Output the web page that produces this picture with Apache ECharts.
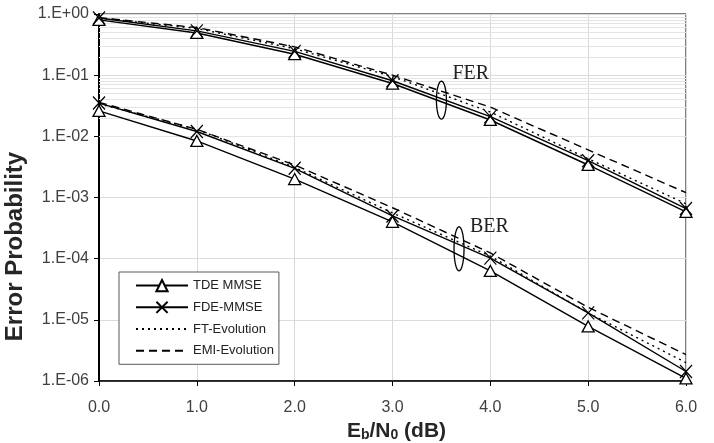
<!DOCTYPE html>
<html><head><meta charset="utf-8">
<script src="https://cdn.jsdelivr.net/npm/echarts@6/dist/echarts.min.js"></script>
<style>html,body{margin:0;padding:0;background:#fff}#c{width:714px;height:443px}</style>
</head><body><div id="c"></div>
<script>
// ---- data ----
const snr = [0, 1, 2, 3, 4, 5, 6];
const seriesNames = ['TDE MMSE', 'FDE-MMSE', 'FT-Evolution', 'EMI-Evolution'];
const ferTDE = [0.80, 0.49, 0.22, 0.073, 0.0185, 0.0034, 0.00058];
const ferFDE = [0.86, 0.53, 0.245, 0.081, 0.021, 0.0040, 0.00066];
const ferFT  = [0.86, 0.58, 0.27, 0.095, 0.025, 0.0043, 0.00079];
const ferEMI = [0.87, 0.60, 0.29, 0.10, 0.030, 0.0060, 0.0012];
const berTDE = [0.026, 0.0084, 0.0020, 0.00040, 0.000063, 0.0000078, 0.0000011];
const berFDE = [0.035, 0.012, 0.0030, 0.00050, 0.000102, 0.000013, 0.00000143];
const berFT  = [0.034, 0.013, 0.0031, 0.00056, 0.00011, 0.000013, 0.0000020];
const berEMI = [0.036, 0.013, 0.0034, 0.00068, 0.000124, 0.000016, 0.0000027];
// annotation anchors in data coordinates
const ferEllipseAt = [3.5, 0.039];
const berEllipseAt = [3.68, 1.45e-4];
const ferTextAt = [3.8, 0.105];
const berTextAt = [3.99, 3.3e-4];

const styles = {
  'TDE MMSE':     {symbol: 'triangle', size: [12, 11], dash: 'solid'},
  'FDE-MMSE':     {symbol: 'path://M0,0L10,10M10,0L0,10', size: [12, 13], dash: 'solid'},
  'FT-Evolution': {symbol: 'none', size: 0, dash: [2, 4]},
  'EMI-Evolution':{symbol: 'none', size: 0, dash: [8, 5]}
};

const minorVals = [];
for (let e = -6; e < 0; e++) for (let m = 2; m <= 9; m++) minorVals.push(m * Math.pow(10, e));

function mk(name, vals, withGrid) {
  const st = styles[name];
  const s = {
    name: name, type: 'line',
    data: snr.map((x, i) => [x, vals[i]]),
    symbol: st.symbol, symbolSize: st.size, showSymbol: st.symbol !== 'none',
    lineStyle: {color: '#000', width: 1.4, type: st.dash},
    itemStyle: {color: '#fff', borderColor: '#000', borderWidth: 1.3},
    emphasis: {disabled: true}, animation: false, silent: true, z: 3
  };
  if (withGrid) {
    s.markLine = {
      silent: true, symbol: 'none', animation: false, z: 1,
      label: {show: false}, emphasis: {disabled: true},
      lineStyle: {color: '#e4e4e4', width: 1, type: 'solid'},
      data: minorVals.map(v => ({yAxis: v}))
    };
  }
  return s;
}

const series = [
  mk('TDE MMSE', ferTDE, true), mk('TDE MMSE', berTDE),
  mk('FDE-MMSE', ferFDE), mk('FDE-MMSE', berFDE),
  mk('FT-Evolution', ferFT), mk('FT-Evolution', berFT),
  mk('EMI-Evolution', ferEMI), mk('EMI-Evolution', berEMI)
];

const chart = echarts.init(document.getElementById('c'), null, {renderer: 'canvas'});
chart.setOption({
  animation: false,
  textStyle: {fontFamily: 'Liberation Sans'},
  grid: {left: 99, right: 28, top: 14, bottom: 62, show: true, borderColor: '#000', borderWidth: 1,
    containLabel: false, outerBoundsMode: 'none'},
  legend: {
    orient: 'vertical', left: 119, top: 272,
    data: seriesNames.map(n => styles[n].symbol === 'none' ? {name: n, itemStyle: {opacity: 0}} : {name: n}),
    itemWidth: 52, itemHeight: 14, itemGap: 8.5,
    backgroundColor: '#fff', borderColor: '#595959', borderWidth: 1,
    padding: [7, 5, 7, 16], selectedMode: false,
    textStyle: {fontFamily: 'Liberation Sans', fontSize: 13, color: '#222'}
  },
  xAxis: {
    type: 'value', min: 0, max: 6, interval: 1,
    axisLine: {onZero: false, lineStyle: {color: '#000', width: 1.5}},
    axisTick: {show: true, length: 5, lineStyle: {color: '#000'}},
    axisLabel: {formatter: v => v.toFixed(1), fontSize: 16, color: '#404040', margin: 19},
    splitLine: {show: true, lineStyle: {color: '#d9d9d9', width: 1}},
    name: 'E{s|b}/N{s|0} (dB)', nameLocation: 'middle', nameGap: 37,
    nameTextStyle: {fontSize: 21, fontWeight: 'bold', color: '#262626', padding: [0, 0, 0, 8],
      rich: {s: {fontSize: 14, fontWeight: 'bold', color: '#262626', verticalAlign: 'bottom', padding: [7, 0, 0, 0]}}}
  },
  yAxis: {
    type: 'log', logBase: 10, min: 1e-6, max: 1, splitNumber: 6,
    axisLine: {show: true, lineStyle: {color: '#000', width: 2}},
    axisTick: {show: true, length: 5, lineStyle: {color: '#000'}},
    axisLabel: {
      formatter: v => { const e = Math.round(Math.log10(v)); return '1.E' + (e >= 0 ? '+' : '-') + String(Math.abs(e)).padStart(2, '0'); },
      fontSize: 16, color: '#404040', margin: 10
    },
    splitLine: {show: true, lineStyle: {color: '#dcdcdc', width: 1}},
    name: 'Error Probability', nameLocation: 'middle', nameGap: 60,
    nameTextStyle: {fontSize: 24, fontWeight: 'bold', color: '#262626', padding: [0, 98, 0, 0]}
  },
  series: series
});

function ellipsePts(cx, cy, rx, ry) {
  const pts = [];
  for (let i = 0; i < 48; i++) { const a = i / 48 * Math.PI * 2; pts.push([cx + rx * Math.cos(a), cy + ry * Math.sin(a)]); }
  return pts;
}
const pFE = chart.convertToPixel({gridIndex: 0}, ferEllipseAt);
const pBE = chart.convertToPixel({gridIndex: 0}, berEllipseAt);
const pFT = chart.convertToPixel({gridIndex: 0}, ferTextAt);
const pBT = chart.convertToPixel({gridIndex: 0}, berTextAt);
chart.setOption({
  graphic: [
    {type: 'polygon', shape: {points: ellipsePts(pFE[0], pFE[1], 5, 19)}, style: {fill: 'none', stroke: '#000', lineWidth: 1.3}, z: 10},
    {type: 'polygon', shape: {points: ellipsePts(pBE[0], pBE[1], 5, 22)}, style: {fill: 'none', stroke: '#000', lineWidth: 1.3}, z: 10},
    {type: 'text', x: pFT[0], y: pFT[1], style: {text: 'FER', fontFamily: 'Liberation Serif', fontSize: 20, fill: '#222', align: 'center', verticalAlign: 'middle'}, z: 10},
    {type: 'text', x: pBT[0], y: pBT[1], style: {text: 'BER', fontFamily: 'Liberation Serif', fontSize: 20, fill: '#222', align: 'center', verticalAlign: 'middle'}, z: 10}
  ]
});
</script>
</body></html>
